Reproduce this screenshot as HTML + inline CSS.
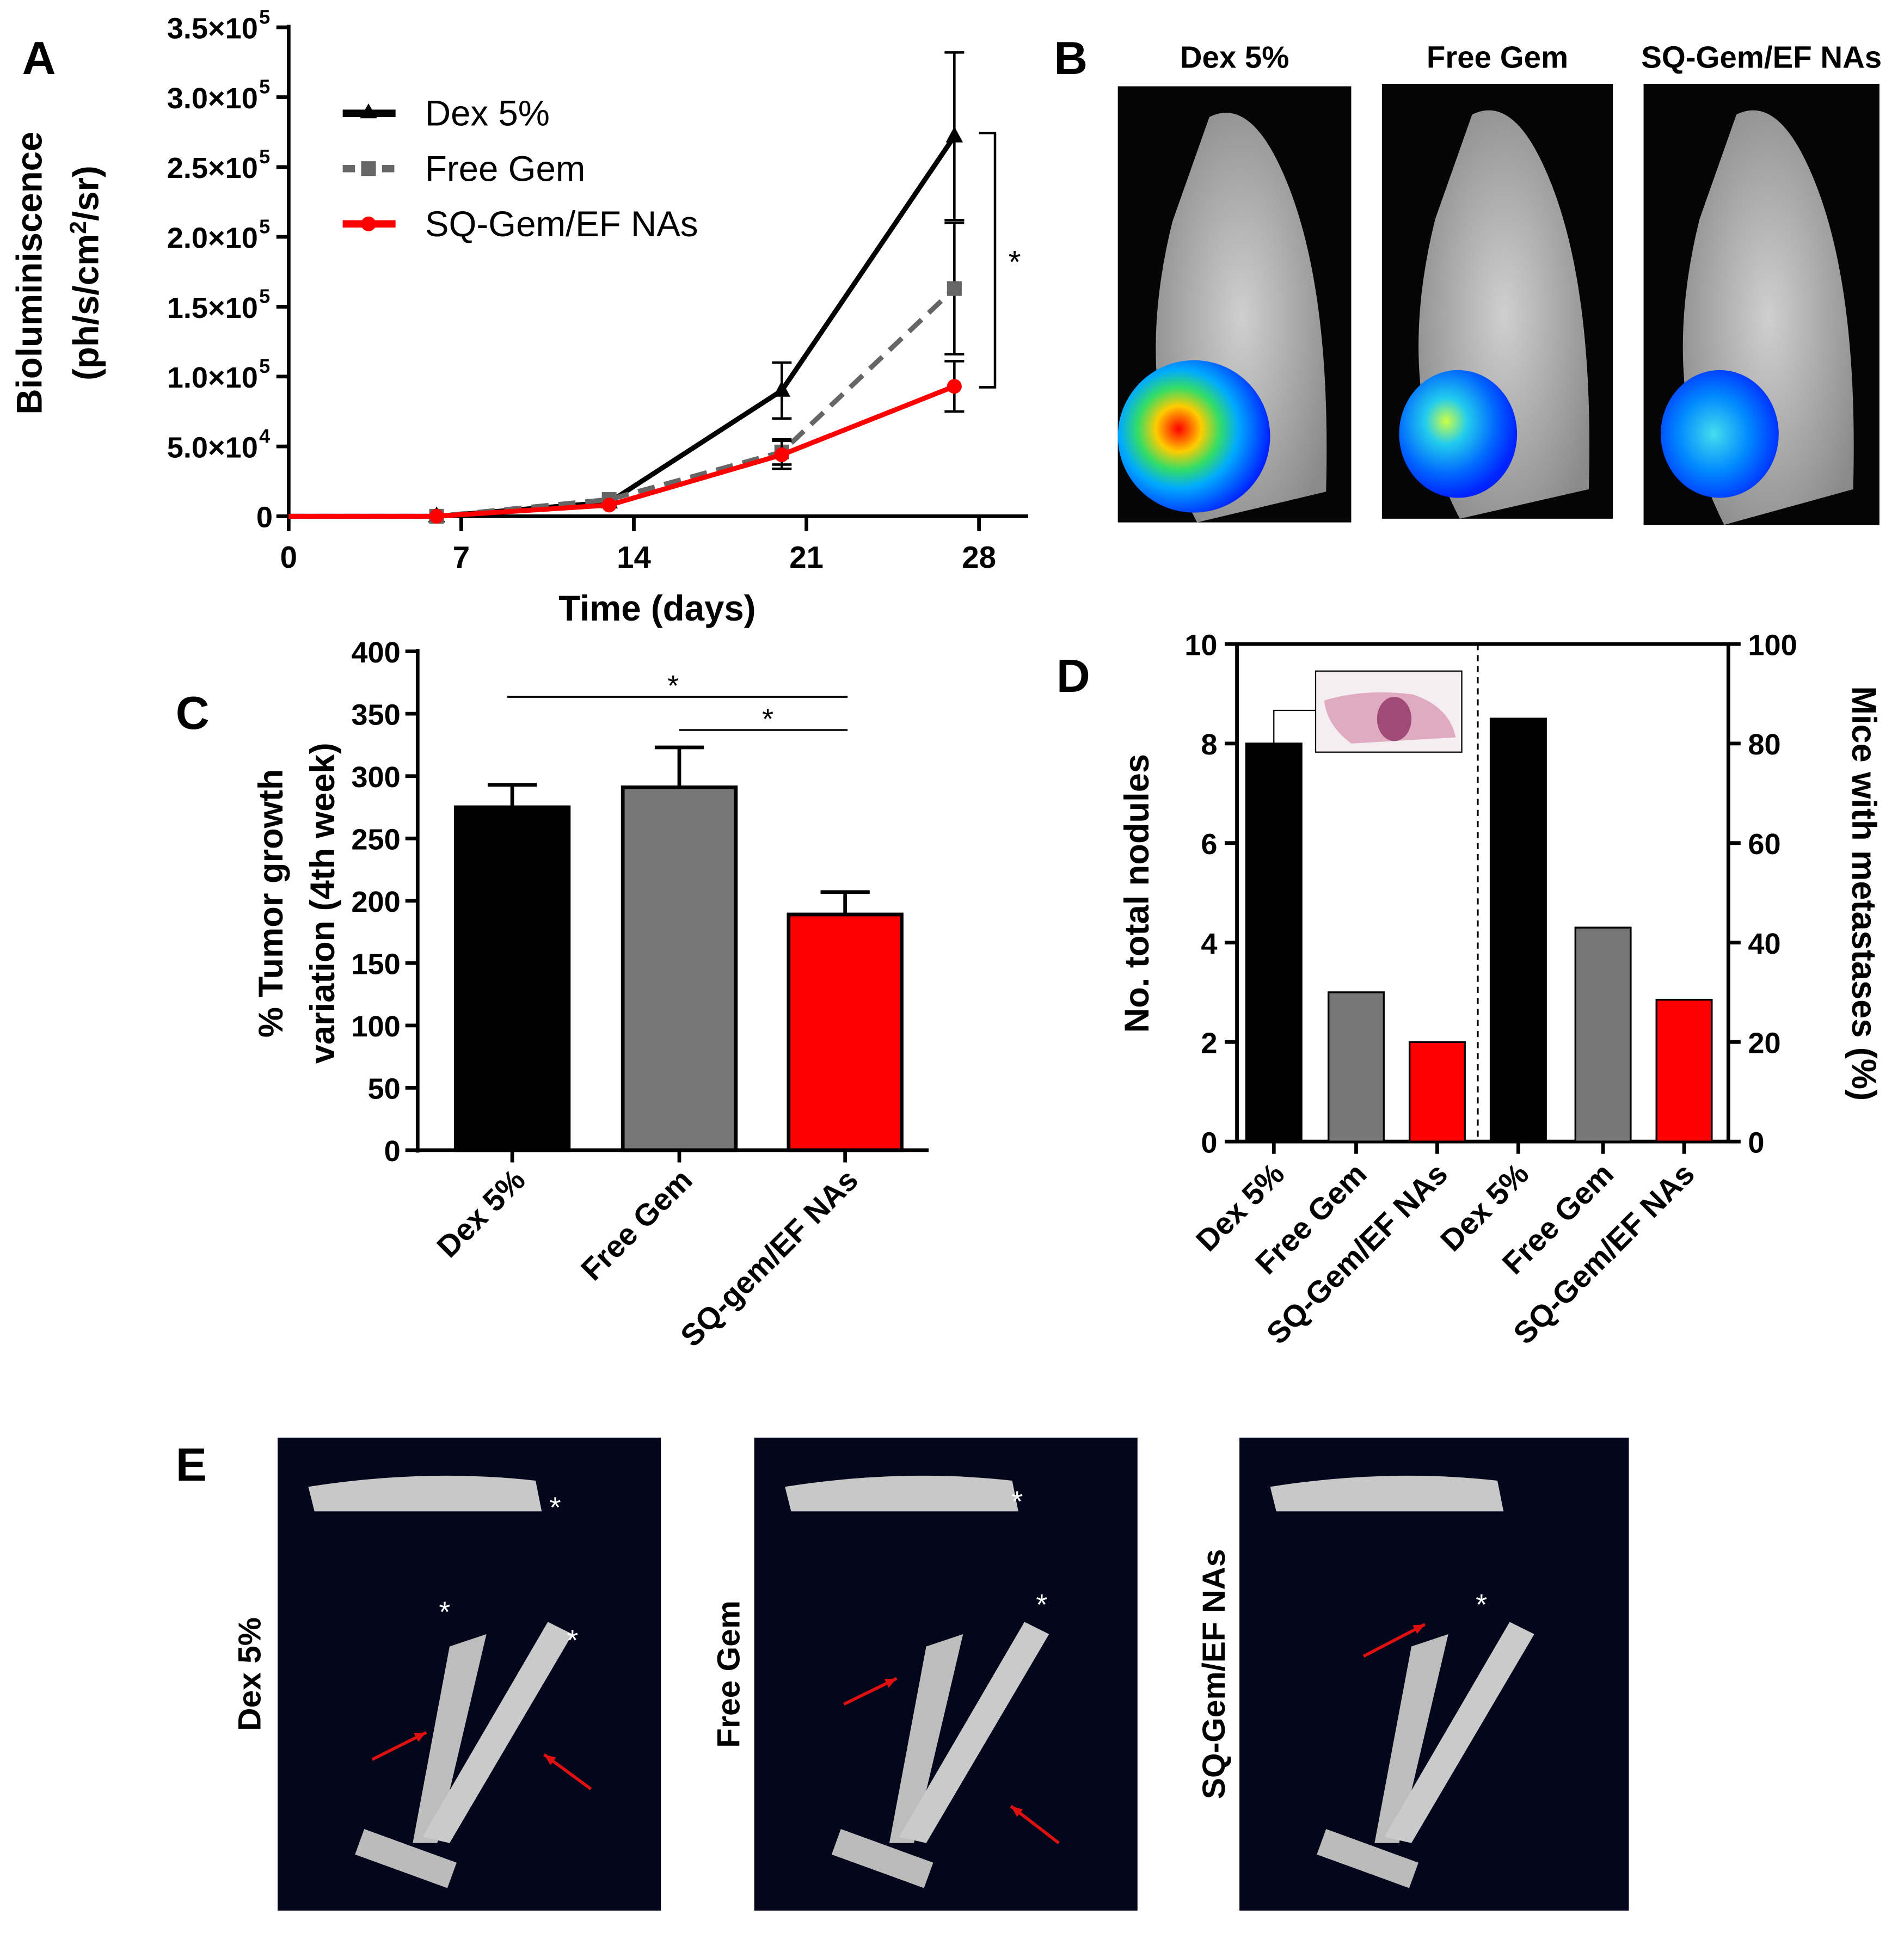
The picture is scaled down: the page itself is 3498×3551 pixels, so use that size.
<!DOCTYPE html>
<html><head><meta charset="utf-8"><style>
html,body{margin:0;padding:0;background:#fff;}
svg{display:block;font-family:"Liberation Sans",sans-serif;}
</style></head><body>
<svg id="fig" width="3498" height="3551" viewBox="0 0 1550 1573" xmlns="http://www.w3.org/2000/svg">
<defs>
<radialGradient id="heat1" cx="0.4" cy="0.45" r="0.6"><stop offset="0" stop-color="#ff0000"/><stop offset="0.25" stop-color="#ffcc00"/><stop offset="0.45" stop-color="#33dd66"/><stop offset="0.65" stop-color="#00aaff"/><stop offset="1" stop-color="#0022ff"/></radialGradient>
<radialGradient id="heat2" cx="0.4" cy="0.4" r="0.6"><stop offset="0" stop-color="#ccff44"/><stop offset="0.3" stop-color="#22ccee"/><stop offset="0.7" stop-color="#0066ff"/><stop offset="1" stop-color="#0022ff"/></radialGradient>
<radialGradient id="heat3" cx="0.45" cy="0.5" r="0.6"><stop offset="0" stop-color="#44ddee"/><stop offset="0.5" stop-color="#0088ff"/><stop offset="1" stop-color="#0022ff"/></radialGradient>
<radialGradient id="mouse" cx="0.5" cy="0.5" r="0.6"><stop offset="0" stop-color="#cfcfcf"/><stop offset="1" stop-color="#8a8a8a"/></radialGradient>
</defs>
<g id="panelA"></g>
<g id="panelB"></g>
<g id="panelC"></g>
<g id="panelD"></g>
<g id="panelE"></g>
</svg>
<script>
// Panel A data
const days=[0,6,13,20,27];
const dexVals=[0,0,10000,90000,272000];
const dexErr=[0,0,0,20000,60000];
const gemVals=[0,0,12000,46000,163000];
const gemErr=[0,0,0,9000,47000];
const sqVals=[0,0,8000,44000,93000];
const sqErr=[0,0,0,10000,18000];
const aXTicks=[0,7,14,21,28];
const aYTicks=[0,50000,100000,150000,200000,250000,300000,350000];
const aYLabels=["0","5.0×10","1.0×10","1.5×10","2.0×10","2.5×10","3.0×10","3.5×10"];
const aYExp=["","4","5","5","5","5","5","5"];
// Panel C data
const cCats=["Dex 5%","Free Gem","SQ-gem/EF NAs"];
const cVals=[275,291,189];
const cErr=[18,32,18];
const cTicks=[0,50,100,150,200,250,300,350,400];
// Panel D data
const dCats=["Dex 5%","Free Gem","SQ-Gem/EF NAs"];
const dNodules=[8,3,2];
const dMice=[85,43,28.5];
const dLeftTicks=[0,2,4,6,8,10];
const dRightTicks=[0,20,40,60,80,100];
const colors=["#000","#777","#ff0000"];

const NS="http://www.w3.org/2000/svg";
function el(parent,tag,attrs,text){const e=document.createElementNS(NS,tag);for(const k in attrs)e.setAttribute(k,attrs[k]);if(text!==undefined)e.textContent=text;parent.appendChild(e);return e;}

// ---------- Panel A ----------
(function(){
const g=document.getElementById('panelA');
const x=d=>235+d*(797-235)/28, y=v=>420-v*(420-22)/350000;
let t=el(g,'text',{x:18,y:60,'font-size':38,'font-weight':'bold'},'A');

el(g,'line',{x1:235,y1:20,x2:235,y2:422,stroke:'#000','stroke-width':3});
el(g,'line',{x1:233,y1:420,x2:837,y2:420,stroke:'#000','stroke-width':3});
aYTicks.forEach((v,i)=>{el(g,'line',{x1:225,y1:y(v),x2:235,y2:y(v),stroke:'#000','stroke-width':3});
 const tt=el(g,'text',{x:aYExp[i]?222:222,y:y(v)+9,'font-size':24,'font-weight':'bold','text-anchor':'end'});
 
 tt.textContent=aYLabels[i];
 if(aYExp[i]){tt.setAttribute('x',210);const ex=el(g,'text',{x:211,y:y(v)-3,'font-size':16,'font-weight':'bold'},aYExp[i]);}
});
aXTicks.forEach(d=>{el(g,'line',{x1:x(d),y1:420,x2:x(d),y2:432,stroke:'#000','stroke-width':3});
 const tt=el(g,'text',{x:x(d),y:462,'font-size':25,'font-weight':'bold','text-anchor':'middle'},d);
 });
t=el(g,'text',{x:535,y:505,'font-size':29,'font-weight':'bold','text-anchor':'middle'},'Time (days)');

t=el(g,'text',{transform:'translate(34,222) rotate(-90)','font-size':29,'font-weight':'bold','text-anchor':'middle'},'Bioluminiscence');

t=el(g,'text',{transform:'translate(80,222) rotate(-90)','font-size':29,'font-weight':'bold','text-anchor':'middle'});
t.innerHTML='(ph/s/cm<tspan dy="-10" font-size="19">2</tspan><tspan dy="10">/sr)</tspan>';

function series(vals,errs,col,dash,marker,name){
 const sg=el(g,'g',{});
 vals.forEach((v,i)=>{if(errs[i]>0){const xx=x(days[i]);
  el(sg,'line',{x1:xx,y1:y(v-errs[i]),x2:xx,y2:y(v+errs[i]),stroke:'#000','stroke-width':2});
  el(sg,'line',{x1:xx-8,y1:y(v-errs[i]),x2:xx+8,y2:y(v-errs[i]),stroke:'#000','stroke-width':2});
  el(sg,'line',{x1:xx-8,y1:y(v+errs[i]),x2:xx+8,y2:y(v+errs[i]),stroke:'#000','stroke-width':2});}});
 const pts=vals.map((v,i)=>x(days[i])+','+y(v)).join(' ');
 el(sg,'polyline',{points:pts,fill:'none',stroke:col,'stroke-width':4,'stroke-dasharray':dash});
 vals.forEach((v,i)=>{if(i===0)return;const xx=x(days[i]),yy=y(v);
  if(marker==='tri')el(sg,'polygon',{points:`${xx},${yy-8} ${xx-7},${yy+5} ${xx+7},${yy+5}`,fill:col});
  else if(marker==='sq')el(sg,'rect',{x:xx-6,y:yy-6,width:12,height:12,fill:col});
  else el(sg,'circle',{cx:xx,cy:yy,r:6,fill:col});});
}
series(dexVals,dexErr,'#000','','tri','series-dex');
series(gemVals,gemErr,'#666','14 8','sq','series-free-gem');
series(sqVals,sqErr,'#ff0000','','circ','series-sq-gem');
// bracket
el(g,'polyline',{points:`797,108 810,108 810,315 797,315`,fill:'none',stroke:'#000','stroke-width':2});
el(g,'text',{x:826,y:222,'font-size':26,'text-anchor':'middle'},'*');
// legend
const leg=[["Dex 5%","#000","",'tri'],["Free Gem","#666","10 6",'sq'],["SQ-Gem/EF NAs","#ff0000","",'circ']];
leg.forEach((l,i)=>{const ly=92+i*45;const lg=el(g,'g',{});
 
 el(lg,'line',{x1:279,y1:ly,x2:322,y2:ly,stroke:l[1],'stroke-width':6,'stroke-dasharray':l[2]});
 if(l[3]==='tri')el(lg,'polygon',{points:`300,${ly-8} 293,${ly+4} 307,${ly+4}`,fill:l[1]});
 else if(l[3]==='sq')el(lg,'rect',{x:294,y:ly-6,width:12,height:12,fill:l[1]});
 else el(lg,'circle',{cx:300,cy:ly,r:6,fill:l[1]});
 el(lg,'text',{x:346,y:ly+10,'font-size':29},l[0]);});
})();

// ---------- Panel B ----------
(function(){
const g=document.getElementById('panelB');
let t=el(g,'text',{x:858,y:60,'font-size':38,'font-weight':'bold'},'B');

const boxes=[[910,70,190,355,'Dex 5%','heat1'],[1125,68,188,354,'Free Gem','heat2'],[1338,68,192,359,'SQ-Gem/EF NAs','heat3']];
boxes.forEach((b,i)=>{const sg=el(g,'g',{});
 el(sg,'rect',{x:b[0],y:b[1],width:b[2],height:b[3],fill:'#050505'});
 const cx=b[0]+b[2]*0.55;
 el(sg,'path',{d:`M${cx-30},${b[1]+25} Q${cx},${b[1]+10} ${cx+25},${b[1]+60} Q${cx+70},${b[1]+150} ${cx+65},${b[1]+330} L${cx-40},${b[1]+b[3]} Q${cx-95},${b[1]+250} ${cx-60},${b[1]+110} Z`,fill:'url(#mouse)'});
 el(sg,'ellipse',{cx:b[0]+62,cy:b[1]+285,rx:i===0?62:48,ry:i===0?62:52,fill:'url(#'+b[5]+')'});
 const tt=el(g,'text',{x:b[0]+b[2]/2,y:55,'font-size':25,'font-weight':'bold','text-anchor':'middle'},b[4]);
 });
})();

// ---------- Panel C ----------
(function(){
const g=document.getElementById('panelC');
const y=v=>936-v*(936-530)/400;const xs=[417,553,688];const bw=92;
let t=el(g,'text',{x:143,y:593,'font-size':38,'font-weight':'bold'},'C');

el(g,'line',{x1:340,y1:528,x2:340,y2:938,stroke:'#000','stroke-width':3});
el(g,'line',{x1:338,y1:936,x2:756,y2:936,stroke:'#000','stroke-width':3});
cTicks.forEach(v=>{el(g,'line',{x1:330,y1:y(v),x2:340,y2:y(v),stroke:'#000','stroke-width':3});
 const tt=el(g,'text',{x:326,y:y(v)+9,'font-size':24,'font-weight':'bold','text-anchor':'end'},v);
 });
cVals.forEach((v,i)=>{const b=el(g,'rect',{x:xs[i]-bw/2,y:y(v),width:bw,height:y(0)-y(v),fill:colors[i],stroke:'#000','stroke-width':3});
 
 el(g,'line',{x1:xs[i],y1:y(v),x2:xs[i],y2:y(v+cErr[i]),stroke:'#000','stroke-width':3});
 el(g,'line',{x1:xs[i]-20,y1:y(v+cErr[i]),x2:xs[i]+20,y2:y(v+cErr[i]),stroke:'#000','stroke-width':3});
 el(g,'line',{x1:xs[i],y1:936,x2:xs[i],y2:946,stroke:'#000','stroke-width':3});
 const tt=el(g,'text',{transform:`translate(${xs[i]+12},${962}) rotate(-45)`,'font-size':25,'font-weight':'bold','text-anchor':'end'},cCats[i]);
 });
el(g,'line',{x1:413,y1:567,x2:690,y2:567,stroke:'#000','stroke-width':1.5});
el(g,'text',{x:548,y:566,'font-size':24,'text-anchor':'middle'},'*');
el(g,'line',{x1:553,y1:594,x2:690,y2:594,stroke:'#000','stroke-width':1.5});
el(g,'text',{x:625,y:593,'font-size':24,'text-anchor':'middle'},'*');
t=el(g,'text',{transform:'translate(230,735) rotate(-90)','font-size':28,'font-weight':'bold','text-anchor':'middle'},'%  Tumor growth');

el(g,'text',{transform:'translate(272,735) rotate(-90)','font-size':28,'font-weight':'bold','text-anchor':'middle'},'variation (4th week)');
})();

// ---------- Panel D ----------
(function(){
const g=document.getElementById('panelD');
const L=1007,R=1407,T=524,B=929;
const yl=v=>B-v*(B-T)/10, yr=v=>B-v*(B-T)/100;
const xsL=[1037,1104,1170], xsR=[1236,1305,1371], bw=45;
let t=el(g,'text',{x:860,y:563,'font-size':38,'font-weight':'bold'},'D');

el(g,'rect',{x:L,y:T,width:R-L,height:B-T,fill:'none',stroke:'#000','stroke-width':3});
el(g,'line',{x1:1203,y1:T,x2:1203,y2:B,stroke:'#000','stroke-width':1.5,'stroke-dasharray':'5 4'});
dLeftTicks.forEach(v=>{el(g,'line',{x1:L-10,y1:yl(v),x2:L,y2:yl(v),stroke:'#000','stroke-width':3});
 const tt=el(g,'text',{x:L-16,y:yl(v)+9,'font-size':24,'font-weight':'bold','text-anchor':'end'},v);
 });
dRightTicks.forEach(v=>{el(g,'line',{x1:R,y1:yr(v),x2:R+10,y2:yr(v),stroke:'#000','stroke-width':3});
 const tt=el(g,'text',{x:R+16,y:yr(v)+9,'font-size':24,'font-weight':'bold'},v);
 });
dNodules.forEach((v,i)=>{const b=el(g,'rect',{x:xsL[i]-bw/2,y:yl(v),width:bw,height:B-yl(v),fill:colors[i],stroke:'#000','stroke-width':1.5});
 });
dMice.forEach((v,i)=>{const b=el(g,'rect',{x:xsR[i]-bw/2,y:yr(v),width:bw,height:B-yr(v),fill:colors[i],stroke:'#000','stroke-width':1.5});
 });
[...xsL,...xsR].forEach((xx,i)=>{el(g,'line',{x1:xx,y1:B,x2:xx,y2:B+10,stroke:'#000','stroke-width':3});
 const tt=el(g,'text',{transform:`translate(${xx+10},${B+28}) rotate(-45)`,'font-size':25,'font-weight':'bold','text-anchor':'end'},dCats[i%3]);
 });
t=el(g,'text',{transform:'translate(935,727) rotate(-90)','font-size':28,'font-weight':'bold','text-anchor':'middle'},'No. total nodules');

t=el(g,'text',{transform:'translate(1508,727) rotate(90)','font-size':28,'font-weight':'bold','text-anchor':'middle'},'Mice with metastases (%)');

// inset
el(g,'polyline',{points:`1037,606 1037,578 1072,578`,fill:'none',stroke:'#000','stroke-width':1});
const ins=el(g,'g',{});
el(ins,'rect',{x:1071,y:546,width:119,height:66,fill:'#f4eef0',stroke:'#000','stroke-width':1});
el(ins,'path',{d:'M1078,570 Q1110,560 1150,565 Q1180,575 1185,600 L1100,605 Q1080,590 1078,570 Z',fill:'#e0aac0'});
el(ins,'ellipse',{cx:1135,cy:585,rx:14,ry:18,fill:'#a04a78'});
})();

// ---------- Panel E ----------
(function(){
const g=document.getElementById('panelE');
let t=el(g,'text',{x:143,y:1205,'font-size':38,'font-weight':'bold'},'E');

const boxes=[[226,1170,312,385,'Dex 5%',200],[614,1170,312,385,'Free Gem',590],[1009,1170,317,385,'SQ-Gem/EF NAs',985]];
boxes.forEach(b=>{const sg=el(g,'g',{});
 el(sg,'rect',{x:b[0],y:b[1],width:b[2],height:b[3],fill:'#04071c'});
 const x0=b[0],y0=b[1];
 el(sg,'path',{d:`M${x0+25},${y0+40} Q${x0+120},${y0+25} ${x0+210},${y0+35} L${x0+215},${y0+60} Q${x0+120},${y0+60} ${x0+30},${y0+60} Z`,fill:'#c8c8c8'});
 el(sg,'path',{d:`M${x0+140},${y0+170} L${x0+170},${y0+160} L${x0+130},${y0+330} L${x0+110},${y0+330} Z`,fill:'#bdbdbd'});
 el(sg,'path',{d:`M${x0+220},${y0+150} L${x0+240},${y0+160} L${x0+140},${y0+330} L${x0+118},${y0+325} Z`,fill:'#cacaca'});
 el(sg,'rect',{x:x0+65,y:y0+330,width:80,height:22,fill:'#bbb',transform:`rotate(20 ${x0+100} ${y0+340})`});
 const tt=el(g,'text',{transform:`translate(${b[5]+12},${b[1]+b[3]/2}) rotate(-90)`,'font-size':26,'font-weight':'bold','text-anchor':'middle'},b[4]);
 });
const arrows=[[303,1432,347,1410],[481,1456,443,1428],[687,1387,730,1366],[862,1500,823,1470],[1110,1348,1160,1322]];
arrows.forEach(a=>{el(g,'line',{x1:a[0],y1:a[1],x2:a[2],y2:a[3],stroke:'#e01010','stroke-width':2.5});
 const ang=Math.atan2(a[3]-a[1],a[2]-a[0]);const s=10;
 el(g,'polygon',{points:`${a[2]},${a[3]} ${a[2]-s*Math.cos(ang-0.4)},${a[3]-s*Math.sin(ang-0.4)} ${a[2]-s*Math.cos(ang+0.4)},${a[3]-s*Math.sin(ang+0.4)}`,fill:'#e01010'});});
[[452,1235],[362,1320],[466,1343],[828,1230],[848,1314],[1206,1314]].forEach(p=>el(g,'text',{x:p[0],y:p[1],'font-size':24,fill:'#fff','text-anchor':'middle'},'*'));
})();
</script>
</body></html>
